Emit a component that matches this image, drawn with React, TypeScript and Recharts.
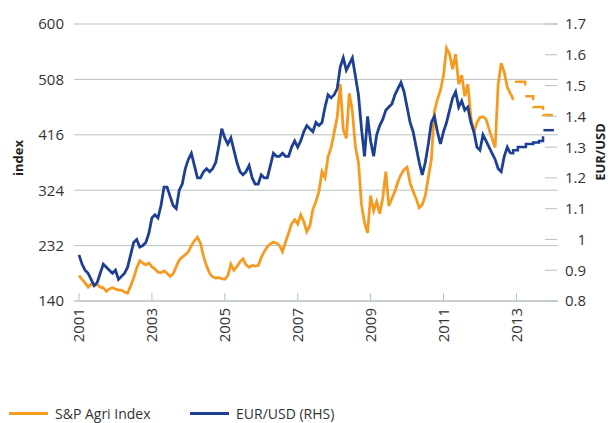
import React from 'react';
import { LineChart, Line, XAxis, YAxis, CartesianGrid } from 'recharts';

// monthly readings, Jan 2001 onwards
const startYear = 2001;

const agriIndex = [
  182, 176, 170, 163, 168, 166, 167, 163, 162, 156, 160, 162,
  160, 158, 158, 155, 153, 165, 178, 195, 207, 203, 200, 203,
  197, 193, 188, 187, 190, 186, 181, 185, 197, 208, 213, 217,
  222, 232, 240, 246, 236, 214, 198, 186, 180, 178, 179, 177,
  176, 182, 201, 191, 197, 205, 210, 200, 196, 199, 198, 199,
  212, 222, 230, 235, 238, 236, 232, 222, 238, 253, 268, 275,
  268, 283, 272, 255, 265, 292, 305, 322, 355, 345, 380, 395,
  420, 445, 500, 425, 410, 485, 455, 396, 370, 300, 270, 253,
  315, 290, 305, 285, 310, 355, 298, 310, 322, 338, 350, 358,
  362, 336, 322, 310, 295, 300, 315, 345, 375, 455, 475, 490,
  515, 560, 550, 525, 550, 500, 515, 480, 500, 446, 420, 436,
  445, 446, 442, 425, 410, 395, 500, 535, 520, 495, 485, 474,
];

const eurUsd = [
  0.95, 0.92, 0.9, 0.89, 0.87, 0.85, 0.86, 0.89, 0.92, 0.91, 0.9, 0.89,
  0.9, 0.87, 0.88, 0.89, 0.91, 0.95, 0.99, 1.0, 0.975, 0.98, 0.99, 1.02,
  1.07, 1.08, 1.07, 1.11, 1.17, 1.17, 1.14, 1.11, 1.1, 1.16, 1.18, 1.23,
  1.26, 1.28, 1.24, 1.2, 1.2, 1.22, 1.23, 1.22, 1.23, 1.25, 1.3, 1.36,
  1.33, 1.31, 1.33, 1.29, 1.25, 1.22, 1.21, 1.22, 1.24, 1.2, 1.18, 1.18,
  1.21, 1.2, 1.2, 1.24, 1.28, 1.27, 1.27, 1.28, 1.27, 1.27, 1.3, 1.32,
  1.3, 1.32, 1.35, 1.37, 1.36, 1.35, 1.38, 1.37, 1.38, 1.43, 1.47, 1.46,
  1.47, 1.49, 1.56, 1.59, 1.55, 1.57, 1.59, 1.53, 1.47, 1.36, 1.27, 1.4,
  1.32, 1.27, 1.34, 1.37, 1.39, 1.42, 1.43, 1.44, 1.47, 1.49, 1.51, 1.48,
  1.43, 1.38, 1.35, 1.3, 1.25, 1.21, 1.25, 1.31, 1.38, 1.4, 1.35, 1.31,
  1.35, 1.38, 1.42, 1.46, 1.48, 1.43, 1.45, 1.42, 1.43, 1.38, 1.35, 1.3,
  1.29, 1.34, 1.32, 1.3, 1.28, 1.26, 1.23, 1.22, 1.27, 1.3, 1.28,
];

// forward curves at the end of the chart
const agriForecastDates = [2012.96, 2013.24, 2013.46, 2013.73, 2014.0];
const agriForecast = [504, 480, 462, 449, 449];

const eurForecastDates = [2012.83, 2012.91, 2013.04, 2013.26, 2013.46, 2013.62, 2013.73];
const eurForecast = [1.28, 1.29, 1.3, 1.31, 1.315, 1.32, 1.335];

const eurTargetDates = [2013.74, 2014.03];
const eurTarget = [1.355, 1.355];

const yearTicks = [2001, 2003, 2005, 2007, 2009, 2011, 2013];
const indexTicks = [140, 232, 324, 416, 508, 600];
const fxTicks = [0.8, 0.9, 1, 1.1, 1.2, 1.3, 1.4, 1.5, 1.6, 1.7];

const ORANGE = '#F59B22';
const BLUE = '#1D3F94';
const GRID = '#b7c3c0';
const TEXT = '#333333';
const FONT = '"Open Sans", sans-serif';

const agriData = agriIndex.map((v, i) => ({ t: startYear + i / 12, v }));
const eurData = eurUsd.map((v, i) => ({ t: startYear + i / 12, v }));
const agriFwdData = agriForecastDates.map((t, i) => ({ t, v: agriForecast[i] }));
const eurFwdData = eurForecastDates.map((t, i) => ({ t, v: eurForecast[i] }));
const eurTargetData = eurTargetDates.map((t, i) => ({ t, v: eurTarget[i] }));

const YearTick = ({ x, y, payload }: any) => (
  <g>
    <line x1={x} y1={y - 8} x2={x} y2={y} stroke={GRID} strokeWidth={1} />
    <text
      transform={`translate(${x},${y + 7}) rotate(-90)`}
      textAnchor="end"
      dy="0.36em"
      fontSize={15}
      fontFamily={FONT}
      fill={TEXT}
    >
      {payload.value}
    </text>
  </g>
);

const FxTick = ({ x, y, payload }: any) => (
  <g>
    <line x1={x - 13} y1={y} x2={x - 1} y2={y} stroke={GRID} strokeWidth={1} />
    <text x={x + 28} y={y} dy="0.36em" textAnchor="end" fontSize={15} fontFamily={FONT} fill={TEXT}>
      {String(Number(payload.value.toFixed(1)))}
    </text>
  </g>
);

const axisTitle = (text: string, x: number, y: number) => () => (
  <text
    x={x}
    y={y}
    transform={`rotate(-90 ${x} ${y})`}
    textAnchor="middle"
    dominantBaseline="central"
    fontSize={13}
    fontWeight="bold"
    fontFamily={FONT}
    fill="#231f20"
  >
    {text}
  </text>
);

const LegendItem = ({ color, label, left }: { color: string; label: string; left: number }) => (
  <>
    <div style={{ position: 'absolute', left, top: 412, width: 39, height: 3, background: color }} />
    <div
      style={{
        position: 'absolute',
        left: left + 46,
        top: 404,
        fontSize: 14,
        lineHeight: '20px',
        color: TEXT,
        fontFamily: FONT,
        whiteSpace: 'nowrap',
      }}
    >
      {label}
    </div>
  </>
);

export default function App() {
  return (
    <div style={{ position: 'absolute', left: 0, top: 0, width: 611, height: 423, background: '#fff', overflow: 'hidden' }}>
      <LineChart width={611} height={423} margin={{ top: 24, right: 0, bottom: 72, left: 0 }}>
        <CartesianGrid yAxisId="left" vertical={false} stroke={GRID} strokeWidth={1} />
        <XAxis
          dataKey="t"
          type="number"
          domain={[2000.863, 2014.141]}
          allowDataOverflow
          ticks={yearTicks}
          interval={0}
          height={50}
          tickSize={0}
          tickMargin={0}
          axisLine={{ stroke: GRID }}
          tickLine={false}
          tick={<YearTick />}
        />
        <YAxis
          yAxisId="left"
          domain={[140, 600]}
          ticks={indexTicks}
          width={74}
          axisLine={false}
          tickLine={false}
          tickSize={0}
          tickMargin={10}
          tick={{ fontSize: 15, fill: TEXT, fontFamily: FONT }}
          label={axisTitle('index', 18, 158)}
        />
        <YAxis
          yAxisId="right"
          orientation="right"
          domain={[0.8, 1.7]}
          ticks={fxTicks}
          width={53}
          axisLine={false}
          tickLine={false}
          tickSize={0}
          tickMargin={0}
          tick={<FxTick />}
          label={axisTitle('EUR/USD', 600, 152)}
        />
        <Line
          data={agriData}
          yAxisId="left"
          dataKey="v"
          type="linear"
          stroke={ORANGE}
          strokeWidth={2.8}
          dot={false}
          isAnimationActive={false}
        />
        <Line
          data={agriFwdData}
          yAxisId="left"
          dataKey="v"
          type="stepAfter"
          stroke={ORANGE}
          strokeWidth={2.5}
          strokeDasharray="14 10.7 12 6.8 12.8 4.8 30"
          dot={false}
          isAnimationActive={false}
        />
        <Line
          data={eurData}
          yAxisId="right"
          dataKey="v"
          type="linear"
          stroke={BLUE}
          strokeWidth={2.8}
          dot={false}
          isAnimationActive={false}
        />
        <Line
          data={eurFwdData}
          yAxisId="right"
          dataKey="v"
          type="stepAfter"
          stroke={BLUE}
          strokeWidth={2.5}
          dot={false}
          isAnimationActive={false}
        />
        <Line
          data={eurTargetData}
          yAxisId="right"
          dataKey="v"
          type="linear"
          stroke={BLUE}
          strokeWidth={2.5}
          dot={false}
          isAnimationActive={false}
        />
      </LineChart>
      <LegendItem color={ORANGE} label="S&P Agri Index" left={9} />
      <LegendItem color={BLUE} label="EUR/USD (RHS)" left={190} />
    </div>
  );
}
